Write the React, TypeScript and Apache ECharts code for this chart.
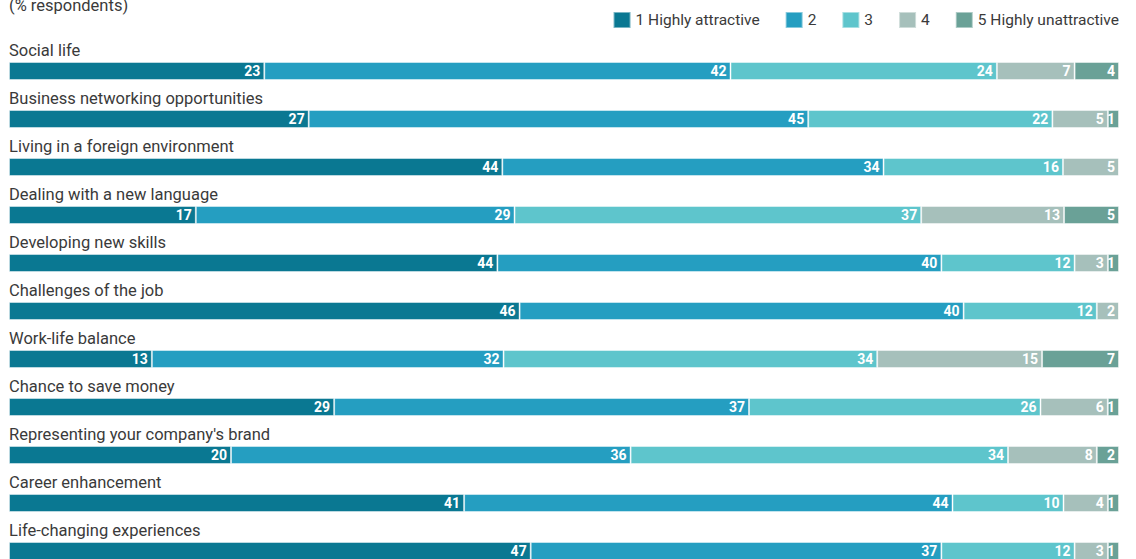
import React, { useEffect, useRef } from "react";
import * as echarts from "echarts";

const categories = [
  "Social life",
  "Business networking opportunities",
  "Living in a foreign environment",
  "Dealing with a new language",
  "Developing new skills",
  "Challenges of the job",
  "Work-life balance",
  "Chance to save money",
  "Representing your company's brand",
  "Career enhancement",
  "Life-changing experiences",
];

const seriesNames = ["1 Highly attractive", "2", "3", "4", "5 Highly unattractive"];
const colors = ["#0A7892", "#259EC1", "#5EC5CC", "#A6C0BB", "#6AA197"];

const highlyAttractive = [23, 27, 44, 17, 44, 46, 13, 29, 20, 41, 47];
const rating2 = [42, 45, 34, 29, 40, 40, 32, 37, 36, 44, 37];
const rating3 = [24, 22, 16, 37, 12, 12, 34, 26, 34, 10, 12];
const rating4 = [7, 5, 5, 13, 3, 2, 15, 6, 8, 4, 3];
const highlyUnattractive = [4, 1, 0, 5, 1, 0, 7, 1, 2, 1, 1];

const allValues = [highlyAttractive, rating2, rating3, rating4, highlyUnattractive];

const FONT = "Roboto";

export default function App() {
  const ref = useRef<HTMLDivElement>(null);
  useEffect(() => {
    if (!ref.current) return;
    const chart = echarts.init(ref.current, undefined, { renderer: "svg" });
    const totals = categories.map((_, i) => allValues.reduce((s, arr) => s + arr[i], 0));
    const series = allValues.map((arr, si) => ({
      type: "bar",
      name: seriesNames[si],
      stack: "total",
      barWidth: 18,
      itemStyle: { color: colors[si], borderColor: "rgba(255,255,255,0.45)", borderWidth: 1 },
      label: {
        show: true,
        position: "insideRight",
        distance: 4,
        color: "#ffffff",
        fontFamily: FONT,
        fontWeight: "bold",
        fontSize: 14,
        formatter: (p: any) => (arr[p.dataIndex] ? String(arr[p.dataIndex]) : ""),
      },
      data: arr.map((v, i) => (v / totals[i]) * 100),
    }));
    chart.setOption({
      animation: false,
      textStyle: { fontFamily: FONT },
      graphic: [
        {
          type: "text",
          left: 9,
          top: -3,
          style: { text: "(% respondents)", fontFamily: FONT, fontSize: 16.5, fill: "#3a3a3a" },
        },
      ],
      legend: {
        right: 17,
        top: 11,
        padding: 0,
        itemWidth: 17,
        itemHeight: 16,
        itemGap: 25,
        icon: "rect",
        textStyle: { fontFamily: FONT, fontSize: 15.5, color: "#3a3a3a" },
        data: seriesNames,
      },
      grid: { left: 9, right: 17, top: 47, height: 528 },
      xAxis: { type: "value", min: 0, max: 100, show: false },
      yAxis: {
        type: "category",
        inverse: true,
        data: categories,
        axisLine: { show: false },
        axisTick: { show: false },
        axisLabel: {
          inside: true,
          margin: 0,
          verticalAlign: "bottom",
          padding: [0, 0, 12, 0],
          fontFamily: FONT,
          fontSize: 16.5,
          color: "#3a3a3a",
        },
      },
      series,
    });
    return () => chart.dispose();
  }, []);
  return (
    <div style={{ position: "absolute", left: 0, top: 0, width: 1136, height: 559, overflow: "hidden" }}>
      <div ref={ref} style={{ width: 1136, height: 600 }} />
    </div>
  );
}
